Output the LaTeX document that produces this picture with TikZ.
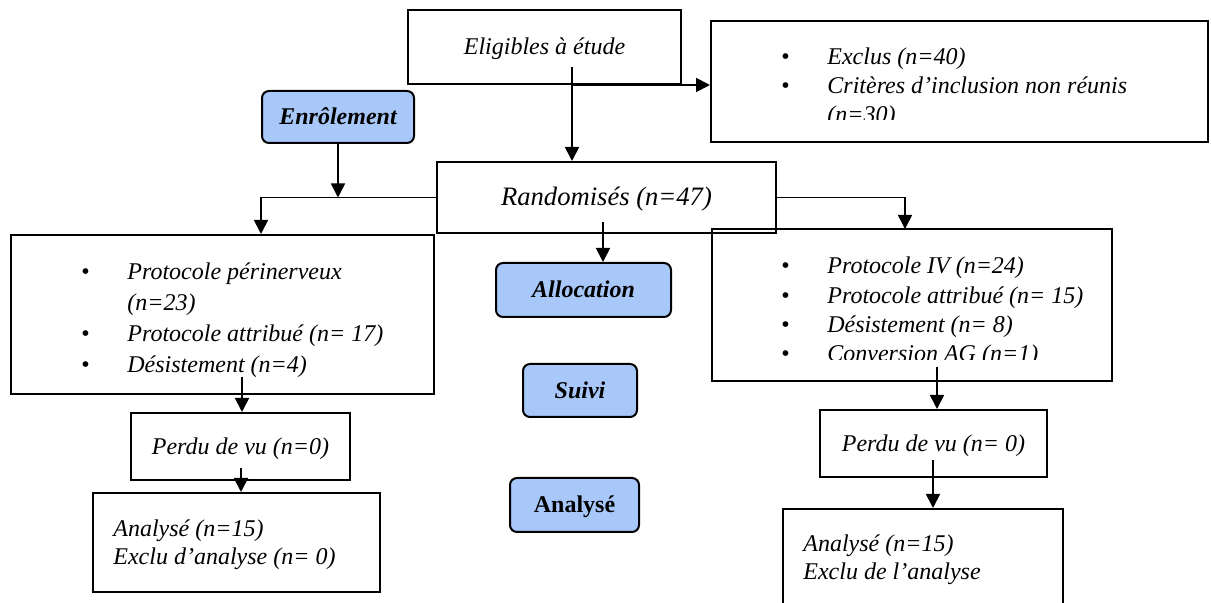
\documentclass[tikz,border=0pt]{standalone}
\usepackage{fontspec}
\setmainfont{Liberation Serif}
\usetikzlibrary{arrows.meta,calc}
\definecolor{phaseblue}{RGB}{168,200,250}
\newcommand\bitem[1]{\makebox[23pt][l]{\upshape\textbullet}#1}
\begin{document}
\begin{tikzpicture}[x=0.5pt,y=-0.5pt,
  box/.style={draw, line width=1pt, inner sep=0pt, text height=10pt, text depth=2pt,
    font=\fontsize{12}{14}\selectfont\itshape},
  phase/.style={box, rounded corners=3.5pt, fill=phaseblue,
    font=\fontsize{12}{14}\selectfont\bfseries\itshape},
  txt/.style={inner sep=0pt, anchor=base west, font=\fontsize{12}{14}\selectfont\itshape},
  arr/.style={line width=0.9pt, -{Triangle[length=7pt,width=7pt]}},
]
\clip (0,0) rectangle (1211,603);
\fill[white] (0,0) rectangle (1211,603);

% boxes
\node[box, minimum width=136.5pt, minimum height=37pt] (elig) at (544.5,47) {Eligibles à étude};
\node[box, minimum width=248.5pt, minimum height=60.5pt] (excl) at (959.5,81.5) {};
\node[box, minimum width=169.5pt, minimum height=35.5pt, font=\fontsize{13.3}{15}\selectfont\itshape] (rand) at (606.5,197.5) {Randomisés (n=47)};
\node[phase, minimum width=76pt, minimum height=26pt] (enrol) at (338,117) {Enrôlement};
\node[box, minimum width=211.5pt, minimum height=79.5pt] (leftbox) at (222.5,314.5) {};
\node[box, minimum width=200pt, minimum height=76pt] (rightbox) at (912,305) {};
\node[phase, minimum width=87.5pt, minimum height=27pt] (alloc) at (583.5,290) {Allocation};
\node[phase, minimum width=57pt, minimum height=26.5pt] (suivi) at (580,390.5) {Suivi};
\node[phase, minimum width=64.5pt, minimum height=27pt, font=\fontsize{12}{14}\selectfont\bfseries] (analmid) at (574.5,505) {Analysé};
\node[box, minimum width=109.5pt, minimum height=33.5pt] (lperdu) at (240.5,446.5) {Perdu de vu (n=0)};
\node[box, minimum width=143.5pt, minimum height=49.5pt] (lanal) at (236.5,542.5) {};
\node[box, minimum width=113.5pt, minimum height=33.5pt] (rperdu) at (933.5,443.5) {Perdu de vu (n= 0)};
\node[box, minimum width=140pt, minimum height=55.5pt] (ranal) at (923,564.5) {};

% texts of list boxes
\begin{scope}
\clip (711,21) rectangle (1208,120);
\node[txt, font=\fontsize{12}{14.5}\selectfont\itshape] (exclT) at (781,65)
  {\begin{tabular}[t]{@{}l@{}}\bitem{Exclus (n=40)}\\ \bitem{Critères d’inclusion non réunis}\\ \hspace*{23pt}(n=30)\end{tabular}};
\end{scope}
\node[txt, font=\fontsize{12}{15.5}\selectfont\itshape] (leftT) at (81,280)
  {\begin{tabular}[t]{@{}l@{}}\bitem{Protocole périnerveux}\\ \hspace*{23pt}(n=23)\\ \bitem{Protocole attribué (n= 17)}\\ \bitem{Désistement (n=4)}\end{tabular}};
\begin{scope}
\clip (712,229) rectangle (1112,360);
\node[txt, font=\fontsize{12}{14.6}\selectfont\itshape] (rightT) at (781,274)
  {\begin{tabular}[t]{@{}l@{}}\bitem{Protocole IV (n=24)}\\ \bitem{Protocole attribué (n= 15)}\\ \bitem{Désistement (n= 8)}\\ \bitem{Conversion AG (n=1)}\end{tabular}};
\end{scope}
\node[txt] (lanalT) at (113,537)
  {\begin{tabular}[t]{@{}l@{}}Analysé (n=15)\\ Exclu d’analyse (n= 0)\end{tabular}};
\node[txt] (ranalT) at (803,552)
  {\begin{tabular}[t]{@{}l@{}}Analysé (n=15)\\ Exclu de l’analyse\end{tabular}};

% connectors
\coordinate (c1) at (572,67);
\coordinate (j1) at (572,85);
\draw[arr] (c1) -- (c1 |- rand.north);
\draw[arr] (j1) -- (j1 -| excl.west);
\draw[arr] (rand.west) -| (enrol.west |- leftbox.north);
\draw[arr] (enrol.south) -- (enrol.south |- rand.west);
\coordinate (c2) at (905,229);
\draw[arr] (rand.east) -| (c2);
\coordinate (c3) at (603,222);
\draw[arr] (c3) -- (c3 |- alloc.north);
\coordinate (c4) at (242,377);
\draw[arr] (c4) -- (c4 |- lperdu.north);
\coordinate (c5) at (241,468);
\draw[arr] (c5) -- (c5 |- lanal.north);
\coordinate (c6) at (937,367);
\draw[arr] (c6) -- (c6 |- rperdu.north);
\coordinate (c7) at (933,460);
\draw[arr] (c7) -- (c7 |- ranal.north);
\end{tikzpicture}
\end{document}
